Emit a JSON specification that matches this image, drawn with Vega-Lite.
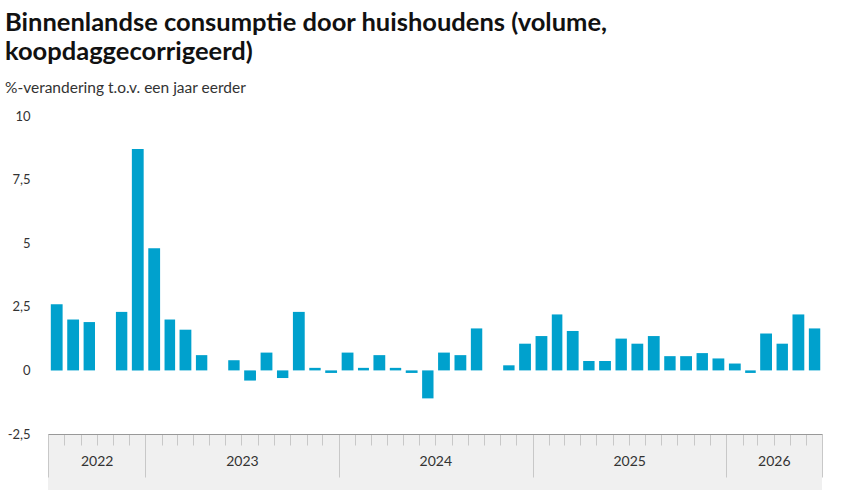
{
  "$schema": "https://vega.github.io/schema/vega-lite/v6.json",
  "width": 774,
  "height": 318,
  "autosize": "none",
  "padding": {"left": 48, "top": 116, "right": 36, "bottom": 62},
  "background": "white",
  "title": {
    "text": ["Binnenlandse consumptie door huishoudens (volume,", "koopdaggecorrigeerd)"],
    "subtitle": "%-verandering t.o.v. een jaar eerder",
    "anchor": "start",
    "frame": "group",
    "dx": -43,
    "offset": 14,
    "font": "Lato",
    "fontSize": 25.5,
    "fontWeight": "bold",
    "color": "#111111",
    "lineHeight": 29,
    "subtitleFont": "Lato",
    "subtitleFontSize": 15.5,
    "subtitleColor": "#333333",
    "subtitlePadding": 15
  },
  "config": {"view": {"stroke": null}},
  "data": {
    "values": [
      {"maand": "2022-07-01", "waarde": 2.6},
      {"maand": "2022-08-01", "waarde": 2.0},
      {"maand": "2022-09-01", "waarde": 1.9},
      {"maand": "2022-10-01", "waarde": 0},
      {"maand": "2022-11-01", "waarde": 2.3},
      {"maand": "2022-12-01", "waarde": 8.7},
      {"maand": "2023-01-01", "waarde": 4.8},
      {"maand": "2023-02-01", "waarde": 2.0},
      {"maand": "2023-03-01", "waarde": 1.6},
      {"maand": "2023-04-01", "waarde": 0.6},
      {"maand": "2023-05-01", "waarde": 0},
      {"maand": "2023-06-01", "waarde": 0.4},
      {"maand": "2023-07-01", "waarde": -0.4},
      {"maand": "2023-08-01", "waarde": 0.7},
      {"maand": "2023-09-01", "waarde": -0.3},
      {"maand": "2023-10-01", "waarde": 2.3},
      {"maand": "2023-11-01", "waarde": 0.1},
      {"maand": "2023-12-01", "waarde": -0.1},
      {"maand": "2024-01-01", "waarde": 0.7},
      {"maand": "2024-02-01", "waarde": 0.1},
      {"maand": "2024-03-01", "waarde": 0.6},
      {"maand": "2024-04-01", "waarde": 0.1},
      {"maand": "2024-05-01", "waarde": -0.1},
      {"maand": "2024-06-01", "waarde": -1.1},
      {"maand": "2024-07-01", "waarde": 0.7},
      {"maand": "2024-08-01", "waarde": 0.6},
      {"maand": "2024-09-01", "waarde": 1.65},
      {"maand": "2024-10-01", "waarde": 0},
      {"maand": "2024-11-01", "waarde": 0.2},
      {"maand": "2024-12-01", "waarde": 1.05},
      {"maand": "2025-01-01", "waarde": 1.35},
      {"maand": "2025-02-01", "waarde": 2.2},
      {"maand": "2025-03-01", "waarde": 1.55},
      {"maand": "2025-04-01", "waarde": 0.37},
      {"maand": "2025-05-01", "waarde": 0.37},
      {"maand": "2025-06-01", "waarde": 1.25},
      {"maand": "2025-07-01", "waarde": 1.05},
      {"maand": "2025-08-01", "waarde": 1.35},
      {"maand": "2025-09-01", "waarde": 0.56},
      {"maand": "2025-10-01", "waarde": 0.56},
      {"maand": "2025-11-01", "waarde": 0.68},
      {"maand": "2025-12-01", "waarde": 0.47},
      {"maand": "2026-01-01", "waarde": 0.27},
      {"maand": "2026-02-01", "waarde": -0.1},
      {"maand": "2026-03-01", "waarde": 1.45},
      {"maand": "2026-04-01", "waarde": 1.05},
      {"maand": "2026-05-01", "waarde": 2.2},
      {"maand": "2026-06-01", "waarde": 1.65}
    ]
  },
  "layer": [
    {
      "data": {"values": [{}]},
      "mark": {"type": "rect", "color": "#f0f0f0", "clip": false},
      "encoding": {
        "x": {
          "datum": {"year": 2022, "month": 7, "date": 1, "utc": true},
          "type": "temporal",
          "scale": {
            "type": "utc",
            "domain": [
              {"year": 2022, "month": 7, "date": 1, "utc": true},
              {"year": 2026, "month": 7, "date": 1, "utc": true}
            ],
            "nice": false
          },
          "axis": {
            "orient": "bottom",
            "title": null,
            "labels": false,
            "grid": false,
            "domain": true,
            "domainColor": "#999999",
            "domainWidth": 1,
            "ticks": true,
            "tickColor": "#c8c8c8",
            "tickWidth": 1,
            "tickCount": {"interval": "month", "step": 1},
            "tickSize": {
              "condition": {
                "test": "utcmonth(datum.value) == 0 || datum.value <= utc(2022, 6, 1) || datum.value >= utc(2026, 6, 1)",
                "value": 43
              },
              "value": 11
            },
            "zindex": 1
          }
        },
        "x2": {"datum": {"year": 2026, "month": 7, "date": 1, "utc": true}},
        "y": {
          "datum": -2.5,
          "type": "quantitative",
          "scale": {"domain": [-2.5, 10], "nice": false, "zero": false},
          "axis": {
            "title": null,
            "values": [-2.5, 0, 2.5, 5, 7.5, 10],
            "labelExpr": "replace(toString(datum.value), '.', ',')",
            "domain": false,
            "ticks": false,
            "tickSize": 0,
            "labelPadding": 18,
            "labelFont": "Lato",
            "labelFontSize": 13,
            "labelColor": "#333333",
            "gridColor": "#e3e3e3",
            "gridWidth": 1
          }
        },
        "y2": {"datum": -4.7}
      }
    },
    {
      "mark": {"type": "bar", "color": "#00a1cd", "width": {"band": 0.78}},
      "encoding": {
        "x": {
          "field": "maand",
          "timeUnit": "utcyearmonth",
          "type": "temporal",
          "axis": {
            "orient": "bottom",
            "title": null,
            "ticks": false,
            "tickSize": 0,
            "domain": false,
            "grid": false,
            "values": [
              {"year": 2022, "month": 10, "date": 1, "utc": true},
              {"year": 2023, "month": 7, "date": 2, "utc": true},
              {"year": 2024, "month": 7, "date": 1, "utc": true},
              {"year": 2025, "month": 7, "date": 2, "utc": true},
              {"year": 2026, "month": 4, "date": 1, "utc": true}
            ],
            "format": "%Y",
            "labelFont": "Lato",
            "labelFontSize": 14,
            "labelColor": "#333333",
            "labelBaseline": "middle",
            "labelPadding": 27,
            "labelFlush": false,
            "labelOverlap": false,
            "zindex": 1
          }
        },
        "y": {
          "field": "waarde",
          "type": "quantitative",
          "scale": {"domain": [-2.5, 10], "nice": false, "zero": false},
          "axis": {
            "title": null,
            "values": [-2.5, 0, 2.5, 5, 7.5, 10],
            "labelExpr": "replace(toString(datum.value), '.', ',')",
            "domain": false,
            "ticks": false,
            "tickSize": 0,
            "labelPadding": 18,
            "labelFont": "Lato",
            "labelFontSize": 13,
            "labelColor": "#333333",
            "gridColor": "#e3e3e3",
            "gridWidth": 1
          }
        },
        "tooltip": [
          {"field": "maand", "timeUnit": "utcyearmonth", "type": "temporal", "title": "Maand"},
          {"field": "waarde", "type": "quantitative", "title": "%"}
        ]
      }
    }
  ],
  "resolve": {"axis": {"x": "independent"}}
}
